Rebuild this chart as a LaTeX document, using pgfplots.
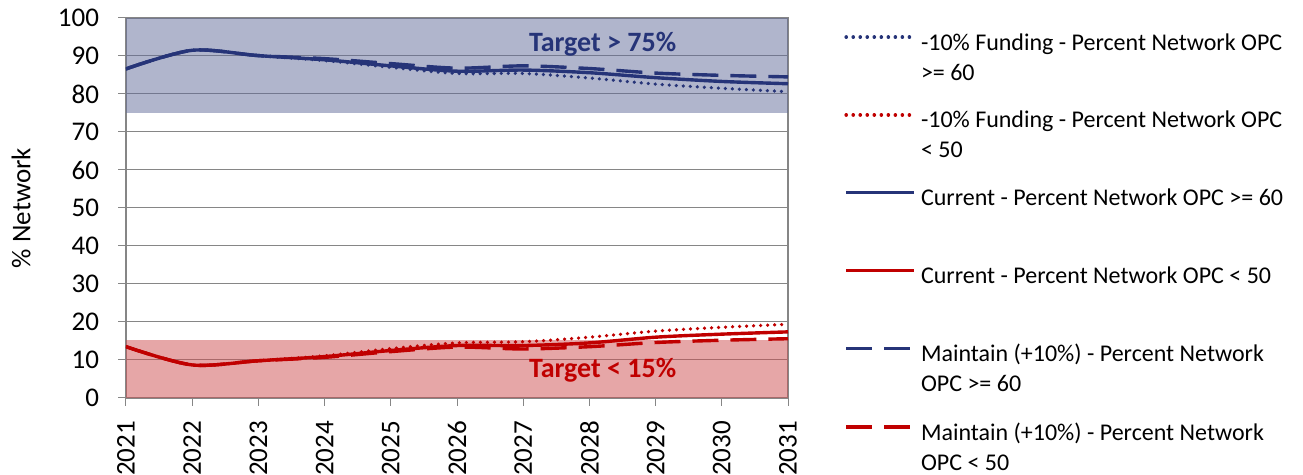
\documentclass[border=0pt]{standalone}
\usepackage{pgfplots}
\pgfplotsset{compat=1.18}
\usepackage{fontspec}
\setmainfont{Carlito}
\definecolor{bl}{RGB}{38,52,120}
\definecolor{rd}{RGB}{192,0,0}
\definecolor{blband}{RGB}{97,107,153}
\definecolor{rdband}{RGB}{205,77,79}
\definecolor{gr}{RGB}{134,134,134}
\pgfplotstableread{
year cb db mb cr dr mr
2021 86.6 86.6 86.6 13.5 13.5 13.5
2022 91.5 91.5 91.5 8.7 8.7 8.7
2023 90.1 90.1 90.1 9.8 9.8 9.8
2024 89.0 88.8 89.3 10.9 11.1 10.7
2025 87.4 87.0 88.0 12.5 13.0 12.2
2026 86.0 85.4 86.8 13.8 14.5 13.4
2027 86.3 85.4 87.4 13.8 14.8 12.9
2028 85.6 84.2 86.7 14.5 16.0 13.5
2029 84.3 82.6 85.5 16.0 17.6 14.6
2030 83.3 81.5 84.9 16.8 18.6 15.2
2031 82.7 80.6 84.5 17.4 19.4 15.6
}\data
\newcommand{\lt}[1]{\parbox[t]{240pt}{\baselineskip=15pt #1}}
\begin{document}
\begin{tikzpicture}
\useasboundingbox (-63pt,-38.5pt) rectangle (588.5pt,199pt);
\begin{axis}[
  at={(0,0)}, anchor=south west,
  scale only axis, width=331pt, height=190pt,
  clip mode=individual,
  xmin=2021, xmax=2031, ymin=0, ymax=100,
  xtick={2021,2022,2023,2024,2025,2026,2027,2028,2029,2030,2031},
  ytick={0,10,20,30,40,50,60,70,80,90,100},
  xticklabel style={rotate=90, anchor=east, font=\fontsize{13.5}{15}\selectfont},
  yticklabel style={font=\fontsize{13.5}{15}\selectfont},
  xticklabel shift=4pt, yticklabel shift=6pt,
  /pgf/number format/assume math mode=true,
  /pgf/number format/1000 sep={},
  tick align=outside, xtick pos=bottom, ytick pos=left,
  major tick length=4pt,
  tick style={gr, line width=0.5pt},
  axis line style={gr, line width=0.6pt},
  ymajorgrids, grid style={gr, line width=0.5pt},
  legend style={at={(1,1)}, anchor=north west, xshift=25pt, yshift=-5.5pt, draw=none, fill=none,
    font=\fontsize{12}{15}\selectfont, row sep=29pt, column sep=2.5pt,
    nodes={inner sep=0pt}},
  legend cell align=left,
  legend image code/.code={\draw[#1] (0pt,0.3em) -- (34pt,0.3em);},
]
\addplot[fill=blband, fill opacity=0.5, draw=none, forget plot] coordinates {(2021,75) (2031,75) (2031,100) (2021,100)} -- cycle;
\addplot[fill=rdband, fill opacity=0.5, draw=none, forget plot] coordinates {(2021,0) (2031,0) (2031,15.3) (2021,15.3)} -- cycle;
\addplot[bl, line width=1.8pt, smooth, line cap=round, dash pattern=on 0.01pt off 3.5pt] table[x=year,y=db]{\data};
\addlegendentry{\lt{-10\% Funding - Percent Network OPC\\>= 60}}
\addplot[rd, line width=1.8pt, smooth, line cap=round, dash pattern=on 0.01pt off 3.5pt] table[x=year,y=dr]{\data};
\addlegendentry{\lt{-10\% Funding - Percent Network OPC\\< 50}}
\addplot[bl, line width=1.7pt, smooth] table[x=year,y=cb]{\data};
\addlegendentry{\lt{Current - Percent Network OPC >= 60}}
\addplot[rd, line width=1.7pt, smooth] table[x=year,y=cr]{\data};
\addlegendentry{\lt{Current - Percent Network OPC < 50}}
\addplot[bl, line width=1.7pt, smooth, dash pattern=on 13pt off 6pt] table[x=year,y=mb]{\data};
\addlegendentry{\lt{Maintain (+10\%) - Percent Network\\OPC >= 60}}
\addplot[rd, line width=1.7pt, smooth, dash pattern=on 13pt off 6pt] table[x=year,y=mr]{\data};
\addlegendentry{\lt{Maintain (+10\%) - Percent Network\\OPC < 50}}
\node[font=\bfseries\fontsize{14}{16}\selectfont, text=bl] at (axis cs:2028.2,93.0) {Target > 75\%};
\node[font=\bfseries\fontsize{14}{16}\selectfont, text=rd] at (axis cs:2028.2,7.4) {Target < 15\%};
\node[xshift=-52.5pt, rotate=90, font=\fontsize{13.5}{15}\selectfont] at (rel axis cs:0,0.5) {\% Network};
\end{axis}
\end{tikzpicture}
\end{document}
